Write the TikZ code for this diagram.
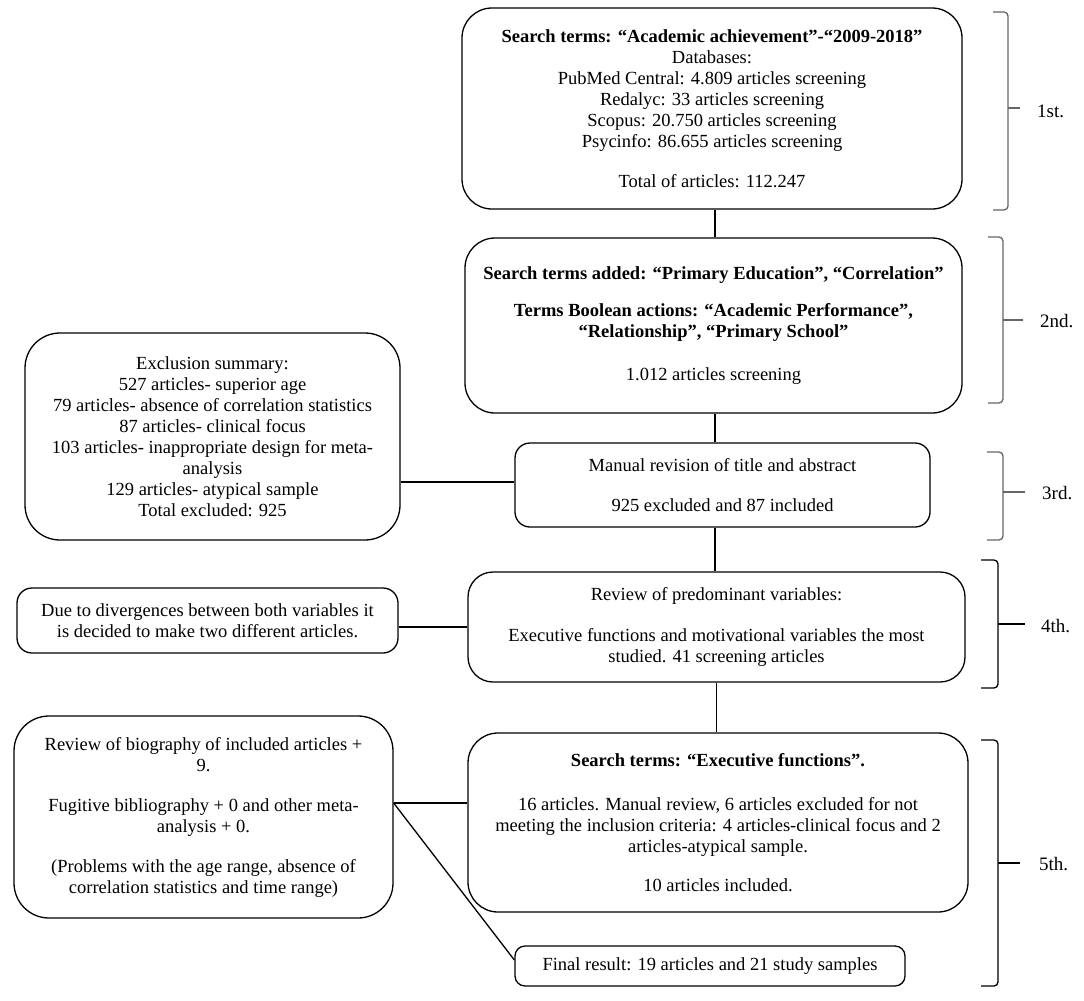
\documentclass[tikz,border=0pt]{standalone}
\usepackage{fontspec}
\setmainfont{Liberation Serif}
\begin{document}
\begin{tikzpicture}[x=1pt,y=-1pt,
  box/.style={draw, line width=1.3pt, rounded corners=#1, align=center, inner sep=0pt,
    font=\fontsize{18.5}{21}\selectfont},
  box/.default=25pt,
  link/.style={line width=1.3pt},
  stagebrace/.style={line width=1.3pt, rounded corners=4pt},
  stagelabel/.style={font=\fontsize{19}{21}\selectfont, anchor=west, inner sep=0pt}]
\useasboundingbox (0,0) rectangle (1084,1001);
\fill[white] (0,0) rectangle (1084,1001);

% main column
\node[box=30pt, minimum width=500pt, minimum height=201pt] (box1) at (712,108.5)
 {\textbf{Search terms: “Academic achievement”-“2009-2018”}\\
  Databases:\\
  PubMed Central: 4.809 articles screening\\
  Redalyc: 33 articles screening\\
  Scopus: 20.750 articles screening\\
  Psycinfo: 86.655 articles screening\\[19pt]
  Total of articles: 112.247};

\node[box=30pt, minimum width=497pt, minimum height=175pt] (box2) at (713.5,325.5)
 {\textbf{Search terms added: “Primary Education”, “Correlation”}\\[16pt]
  \textbf{Terms Boolean actions: “Academic Performance”,}\\
  \textbf{“Relationship”, “Primary School”}\\[22pt]
  1.012 articles screening};

\node[box=15pt, minimum width=415pt, minimum height=84pt] (box3) at (722.5,485)
 {Manual revision of title and abstract\\[19pt]
  925 excluded and 87 included};

\node[box=25pt, minimum width=497pt, minimum height=110pt] (box4) at (716.5,627)
 {Review of predominant variables:\\[20pt]
  Executive functions and motivational variables the most\\
  studied. 41 screening articles};

\node[box=30pt, minimum width=500pt, minimum height=179pt] (box5) at (718,822.5)
 {\textbf{Search terms: “Executive functions”.}\\[23pt]
  16 articles. Manual review, 6 articles excluded for not\\
  meeting the inclusion criteria: 4 articles-clinical focus and 2\\
  articles-atypical sample.\\[18pt]
  10 articles included.};

\node[box=10pt, minimum width=390pt, minimum height=40pt] (final) at (710,966)
 {Final result: 19 articles and 21 study samples};

% left column
\node[box=35pt, minimum width=375pt, minimum height=207pt] (excl) at (212.5,436.5)
 {Exclusion summary:\\
  527 articles- superior age\\
  79 articles- absence of correlation statistics\\
  87 articles- clinical focus\\
  103 articles- inappropriate design for meta-\\
  analysis\\
  129 articles- atypical sample\\
  Total excluded: 925};

\node[box=15pt, minimum width=381pt, minimum height=65pt] (left4) at (207.5,620.5)
 {Due to divergences between both variables it\\
  is decided to make two different articles.};

\node[box=35pt, minimum width=379pt, minimum height=202pt] (left5) at (203.5,817)
 {Review of biography of included articles +\\
  9.\\[19pt]
  Fugitive bibliography + 0 and other meta-\\
  analysis + 0.\\[19pt]
  (Problems with the age range, absence of\\
  correlation statistics and time range)};

% connectors
\draw[link] ([xshift=3pt]box1.south) -- ([xshift=3pt]box1.south |- box2.north);
\draw[link] ([xshift=1.5pt]box2.south) -- ([xshift=1.5pt]box2.south |- box3.north);
\draw[link] ([xshift=-7.5pt]box3.south) -- ([xshift=-7.5pt]box3.south |- box4.north);
\draw[link] (box4.south) -- (box4.south |- box5.north);
\draw[link] ([yshift=3pt]box3.west) -- ([yshift=3pt]box3.west -| excl.east);
\draw[link] (box4.west) -- (box4.west -| left4.east);
\coordinate (j5) at ([yshift=14pt]left5.east);
\draw[link] (j5) -- (j5 -| box5.west);
\draw[link] (j5) -- ([yshift=6pt]final.west);

% stage braces
\draw[stagebrace, gray!80!black] (993,12) -- (1008,12) -- (1008,210) -- (993,210);
\draw[link, gray!80!black] (1008,108) -- (1020,108);
\node[stagelabel] (l1) at (1037,111) {1st.};

\draw[stagebrace, gray!80!black] (988,237) -- (1003,237) -- (1003,403) -- (988,403);
\draw[link, gray!80!black] (1003,320) -- (1023,320);
\node[stagelabel] (l2) at (1040,321) {2nd.};

\draw[stagebrace, gray!80!black] (987,452) -- (1003,452) -- (1003,540) -- (987,540);
\draw[link, gray!80!black] (1003,492) -- (1025,492);
\node[stagelabel] (l3) at (1042,493) {3rd.};

\draw[stagebrace] (981,560) -- (998,560) -- (998,688) -- (981,688);
\draw[link] (998,624) -- (1025,624);
\node[stagelabel] (l4) at (1041,626) {4th.};

\draw[stagebrace] (981,740) -- (998,740) -- (998,986) -- (981,986);
\draw[link] (998,863) -- (1020,863);
\node[stagelabel] (l5) at (1039,864) {5th.};
\end{tikzpicture}
\end{document}
